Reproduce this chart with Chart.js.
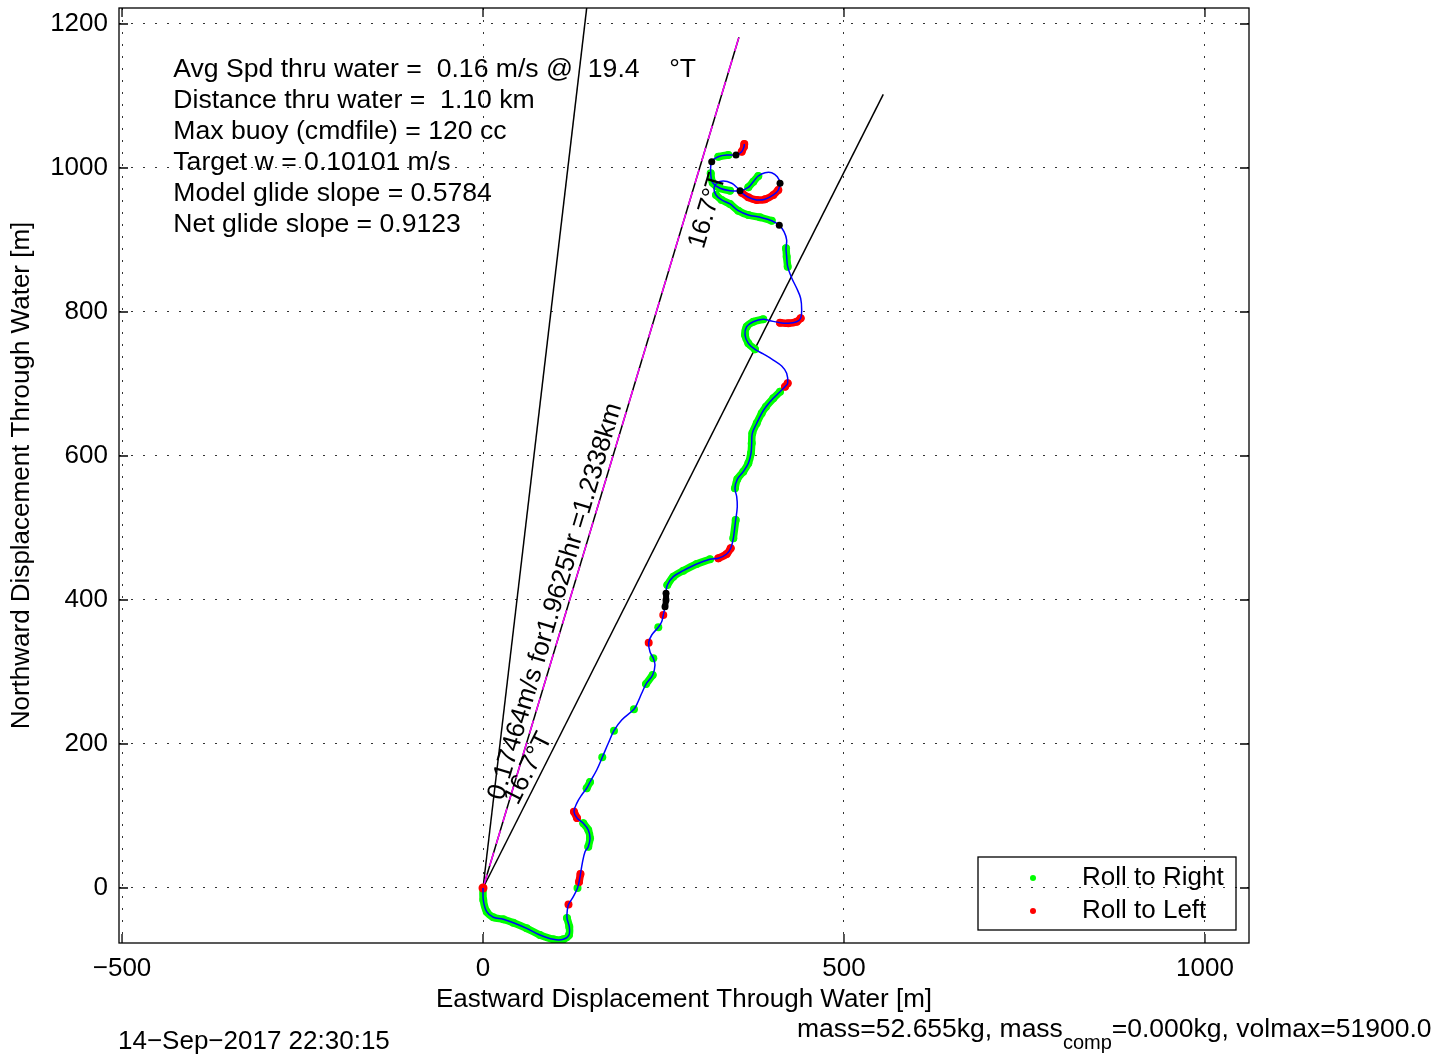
<!DOCTYPE html>
<html><head><meta charset="utf-8">
<script src="https://cdn.jsdelivr.net/npm/chart.js@4"></script>
<style>
html,body{margin:0;padding:0;background:#fff;overflow:hidden;}
#wrap{position:relative;width:1450px;height:1059px;overflow:hidden;}
canvas{position:absolute;left:0;top:0;}
.t{position:absolute;font-family:"Liberation Sans",Arial,sans-serif;font-size:26px;line-height:30px;color:#000;white-space:nowrap;}
</style></head><body>
<div id="wrap"><canvas id="c" width="1450" height="1059"></canvas>
<div class="t" style="left:118px;top:1025px;">14−Sep−2017 22:30:15</div>
<div class="t" style="left:797px;top:1013px;font-size:26.5px;">mass=52.655kg, mass<span style="font-size:20px;position:relative;top:12px;">comp</span>=0.000kg, volmax=51900.0</div>
</div>
<script>
// ---- axis ticks ----
const xTickValues = [-500, 0, 500, 1000];
const xTickLabels = ['−500', '0', '500', '1000'];
const yTickValues = [0, 200, 400, 600, 800, 1000, 1200];
const yTickLabels = ['0', '200', '400', '600', '800', '1000', '1200'];
const xRange = [-504.2, 1061];
const yRange = [-76.4, 1222.2];

// ---- glider track through water (m) ----
const trackX = [0,0.4,5.1,14.3,28.1,42.0,60.5,78.9,97.4,111.2,119.1,119.5,116.3,116.8,118.4,125.1,130.9,133.0,135.0,137.5,
141.3,145.8,148.2,145.8,138.9,130.2,126.0,129.8,136.7,143.6,148.2,157.5,165.2,173.5,181.4,192.1,209.1,213.7,219.8,225.8,
235.0,238.2,235.9,231.3,229.5,233.7,242.8,247.5,249.7,252.1,253.5,253.5,255.3,263.6,277.4,296.0,314.4,325.9,337.5,343.1,
346.7,350.0,352.2,351.4,349.0,352.2,360.5,367.5,371.2,372.2,373.0,379.1,386.0,392.0,402.1,411.4,418.3,422.0,420.6,413.7,
402.1,388.2,376.7,367.5,362.9,365.2,374.4,388.2,397.5,411.4,422.9,434.5,440.0,441.4,440.0,434.5,427.6,422.0,420.6,419.7,
420.6,416.9,410.4,399.9,383.7,367.5,353.6,342.1,330.6,322.7,319.9,323.7,332.8,344.5,351.4,358.3,367.5,379.1,390.6,402.1,
409.0,411.4,407.6,399.9,390.6,381.3,374.4,367.5,356.0,342.1,328.3,318.1,315.4,316.8,325.9,339.8,350.4,358.3,361.5,361.9];
const trackY = [0,-16.7,-32.9,-40.7,-43.5,-48.2,-56.0,-65.3,-71.3,-71.3,-65.3,-53.8,-41.7,-30.6,-22.9,-12.1,0,8.3,19.4,34.3,
50.4,57.4,69.0,80.6,89.9,97.2,106.0,117.6,129.2,138.5,147.2,163.9,181.5,201.0,218.5,233.3,248.2,256.5,270.4,283.3,
295.8,309.7,319.0,328.2,340.7,351.4,362.1,369.9,379.2,390.7,400.0,409.3,420.8,432.4,440.7,450.0,456.5,457.9,463.9,471.8,
485.7,511.1,529.6,543.5,555.1,567.6,578.2,589.9,603.8,617.6,631.5,645.4,659.3,668.5,680.1,689.3,696.3,701.0,714.9,725.0,
733.3,741.7,748.2,756.5,768.1,779.6,786.5,789.9,787.9,785.1,784.3,786.5,791.3,802.8,819.0,832.9,847.2,862.9,876.8,888.5,
900.0,911.5,920.4,926.8,931.5,934.7,940.7,950.0,955.6,962.5,971.8,978.8,981.9,978.8,973.2,965.7,959.3,955.6,956.5,962.5,
969.4,978.8,987.9,993.5,993.5,988.9,981.0,973.2,968.5,968.5,971.8,979.6,992.6,1008.8,1015.7,1018.1,1018.1,1022.6,1029.6,1033.3];
// roll state at each track point: g = roll to right, r = roll to left, k = other marker, - = none
const rollFlag = ['g','g','g','g','g','g','g','g','g','g','g','g','g','-','r','-','g','r','r','-',
'-','g','g','g','g','r','r','-','-','g','g','-','g','-','g','-','g','-','-','g',
'g','-','g','-','r','-','g','-','r','k','k','k','g','g','g','g','g','r','r','r',
'g','g','-','-','g','g','g','g','g','g','g','g','g','g','g','g','r','r','-','-',
'-','-','g','g','g','g','g','g','-','r','r','r','r','-','-','-','-','g','g','g',
'-','-','k','g','g','g','g','g','g','g','-','-','-','-','-','r','r','r','r','r',
'r','k','-','-','-','g','g','g','k','g','g','g','g','k','g','g','k','r','r','r'];
// the start point also carries a roll-to-left marker
const startFlag = 'r';

// ---- reference lines from origin (6.7°, 16.7°, 26.7°T, 1.2338 km) ----
const refEndX = [144.0, 354.5, 554.4];
const refEndY = [1225.4, 1181.7, 1102.3];

// ---- legend ----
const legendLabels = ['Roll to Right', 'Roll to Left'];
const legendColors = ['#00ff00', '#ff0000'];

// ---- text ----
const infoLines = ['Avg Spd thru water =  0.16 m/s @  19.4    °T','Distance thru water =  1.10 km','Max buoy (cmdfile) = 120 cc',
'Target w = 0.10101 m/s','Model glide slope = 0.5784','Net glide slope = 0.9123'];
const infoAnchor = [-429, 1136];
const rotLabels = ['0.17464m/s for1.9625hr =1.2338km', '16.7°T', '16.7°T'];
const rotX = [35.4, 55.4, 313];
const rotY = [118.2, 110.2, 884];
const rotAngle = [73.3, 63.3, 73.3];

const FONT = '"Liberation Sans", Arial, Helvetica, sans-serif';
const pts = trackX.map((v, i) => ({x: v, y: trackY[i]}));
const datasets = [];

// reference lines
refEndX.forEach((ex, i) => {
  datasets.push({data: [{x: 0, y: 0}, {x: ex, y: refEndY[i]}], showLine: true, borderColor: '#000', borderWidth: 1.5,
    pointRadius: 0, order: 10});
});
datasets.push({data: [{x: 0, y: 0}, {x: refEndX[1], y: refEndY[1]}], showLine: true, borderColor: '#ff00ff', borderWidth: 1.5,
  borderDash: [14, 9], pointRadius: 0, order: 9});

// roll state bands
const flagColor = {g: '#00ff00', r: '#ff0000', k: '#000000'};
const flagOrder = {g: 4, r: 3, k: 0};
let i = 0;
while (i < rollFlag.length) {
  const f = rollFlag[i];
  let j = i;
  while (j + 1 < rollFlag.length && rollFlag[j + 1] === f) j++;
  if (f !== '-') {
    datasets.push({data: pts.slice(i, j + 1), showLine: true, borderColor: flagColor[f], backgroundColor: flagColor[f],
      borderWidth: f === 'k' ? 6 : 7.5, pointRadius: f === 'k' ? 3.5 : 4, pointBorderWidth: 0, tension: 0.35,
      borderCapStyle: 'round', borderJoinStyle: 'round', order: flagOrder[f]});
  }
  i = j + 1;
}
// start marker
datasets.push({data: [pts[0]], backgroundColor: flagColor[startFlag], pointRadius: 4.5, pointBorderWidth: 0, order: 2});
// track line
datasets.push({data: pts, showLine: true, borderColor: '#0000ff', borderWidth: 1.5, pointRadius: 0, tension: 0.35, order: 1});

const decor = {
  id: 'decor',
  afterDraw(chart) {
    const {ctx, chartArea: a, scales: {x, y}} = chart;
    ctx.save();
    ctx.strokeStyle = '#000';
    ctx.lineWidth = 1.3;
    ctx.setLineDash([]);
    ctx.strokeRect(a.left, a.top, a.right - a.left, a.bottom - a.top);
    const tl = 9;
    ctx.beginPath();
    xTickValues.forEach(v => { const p = x.getPixelForValue(v);
      ctx.moveTo(p, a.bottom); ctx.lineTo(p, a.bottom - tl); ctx.moveTo(p, a.top); ctx.lineTo(p, a.top + tl); });
    yTickValues.forEach(v => { const p = y.getPixelForValue(v);
      ctx.moveTo(a.left, p); ctx.lineTo(a.left + tl, p); ctx.moveTo(a.right, p); ctx.lineTo(a.right - tl, p); });
    ctx.stroke();

    ctx.fillStyle = '#000';
    ctx.font = '26.6px ' + FONT;
    ctx.textAlign = 'left';
    ctx.textBaseline = 'middle';
    const ix = x.getPixelForValue(infoAnchor[0]), iy = y.getPixelForValue(infoAnchor[1]);
    infoLines.forEach((s, k) => ctx.fillText(s, ix, iy + k * 31));

    ctx.font = '26px ' + FONT;
    ctx.textBaseline = 'bottom';
    rotLabels.forEach((s, k) => {
      ctx.save();
      ctx.translate(x.getPixelForValue(rotX[k]), y.getPixelForValue(rotY[k]));
      ctx.rotate(-rotAngle[k] * Math.PI / 180);
      ctx.fillText(s, 0, 0);
      ctx.restore();
    });

    // legend
    const lx = a.right - 271, ly = a.bottom - 86, lw = 258, lh = 73;
    ctx.lineWidth = 1.3;
    ctx.strokeRect(lx, ly, lw, lh);
    ctx.textBaseline = 'middle';
    legendLabels.forEach((s, k) => {
      const cy = ly + 21 + k * 33;
      ctx.fillStyle = legendColors[k];
      ctx.beginPath(); ctx.arc(lx + 55, cy, 3, 0, Math.PI * 2); ctx.fill();
      ctx.fillStyle = '#000';
      ctx.fillText(s, lx + 104, cy);
    });
    ctx.restore();
  }
};

new Chart(document.getElementById('c'), {
  type: 'scatter',
  data: {datasets},
  plugins: [decor],
  options: {
    responsive: false, animation: false, devicePixelRatio: 1,
    layout: {padding: {left: 0, top: 8, right: 201, bottom: 44}},
    plugins: {legend: {display: false}, tooltip: {enabled: false}},
    scales: {
      x: {type: 'linear', min: xRange[0], max: xRange[1],
        afterBuildTicks: s => { s.ticks = xTickValues.map(v => ({value: v})); },
        afterFit: s => { s.height = 72; s.paddingLeft = 0; s.paddingRight = 0; },
        ticks: {color: '#000', padding: 10, font: {size: 26, family: FONT}, maxRotation: 0,
          callback: (v) => xTickLabels[xTickValues.indexOf(v)]},
        grid: {color: '#333', lineWidth: 1, drawTicks: false},
        border: {display: false, dash: [2, 10]},
        title: {display: true, text: 'Eastward Displacement Through Water [m]', color: '#000',
          font: {size: 26, family: FONT}, padding: {top: 0, bottom: 0}}},
      y: {type: 'linear', min: yRange[0], max: yRange[1],
        afterBuildTicks: s => { s.ticks = yTickValues.map(v => ({value: v})); },
        afterFit: s => { s.width = 119; s.paddingTop = 0; s.paddingBottom = 0; },
        ticks: {color: '#000', padding: 11, font: {size: 26, family: FONT},
          callback: (v) => yTickLabels[yTickValues.indexOf(v)]},
        grid: {color: '#333', lineWidth: 1, drawTicks: false},
        border: {display: false, dash: [2, 10]},
        title: {display: true, text: 'Northward Displacement Through Water [m]', color: '#000',
          font: {size: 26, family: FONT}, padding: {top: 6, bottom: 0}}}
    }
  }
});
</script>
</body></html>
